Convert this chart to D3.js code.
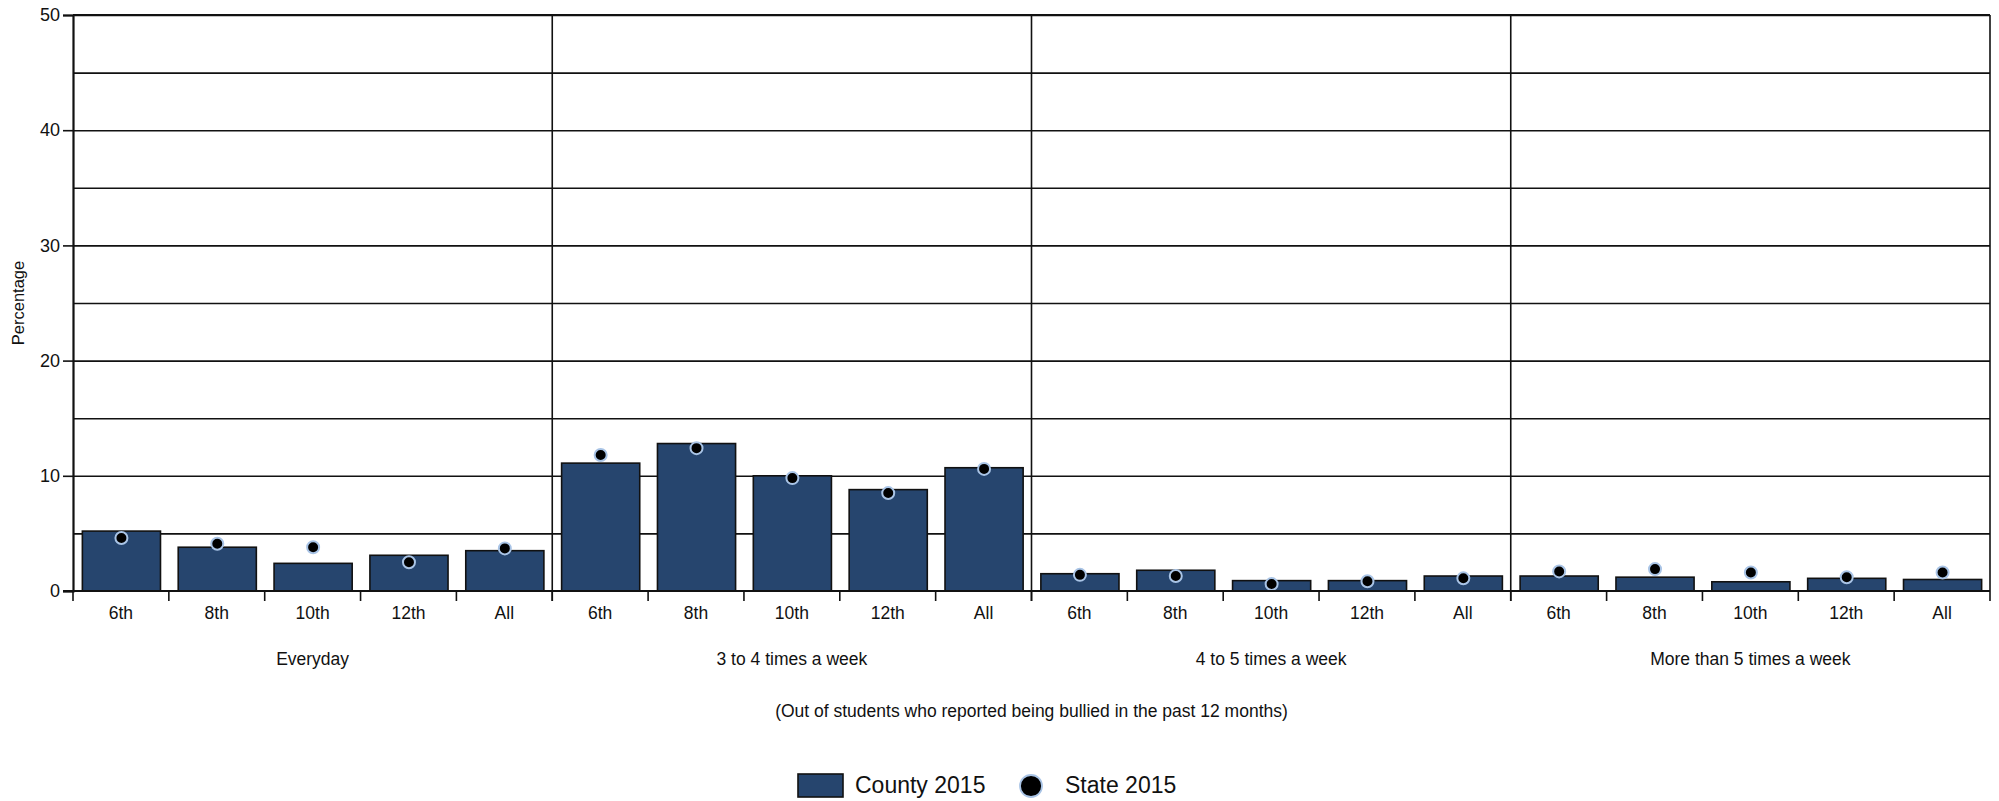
<!DOCTYPE html>
<html>
<head>
<meta charset="utf-8">
<script src="https://cdn.jsdelivr.net/npm/d3@7"></script>
<style>
  html, body { margin: 0; padding: 0; background: #fff; }
  svg { display: block; }
  text { font-family: "Liberation Sans", Arial, sans-serif; fill: #111; }
</style>
</head>
<body>
<svg id="chart" width="1999" height="801"></svg>
<script>
const groups = ["Everyday", "3 to 4 times a week", "4 to 5 times a week", "More than 5 times a week"];
const grades = ["6th", "8th", "10th", "12th", "All"];
const county2015 = [
  [5.2, 3.8, 2.4, 3.1, 3.5],
  [11.1, 12.8, 10.0, 8.8, 10.7],
  [1.5, 1.8, 0.9, 0.9, 1.3],
  [1.3, 1.2, 0.8, 1.1, 1.0]
];
const state2015 = [
  [4.6, 4.1, 3.8, 2.5, 3.7],
  [11.8, 12.4, 9.8, 8.5, 10.6],
  [1.4, 1.3, 0.6, 0.85, 1.1],
  [1.7, 1.9, 1.6, 1.2, 1.6]
];
const yTicks = [0, 10, 20, 30, 40, 50];
const gridValues = [5, 10, 15, 20, 25, 30, 35, 40, 45, 50];
const seriesNames = ["County 2015", "State 2015"];
const yTitle = "Percentage";
const note = "(Out of students who reported being bullied in the past 12 months)";

(function () {
const svg = d3.select("#chart");
const pLeft = 73, pRight = 1990, pTop = 15, pBottom = 591;
const barColor = "#26456e";
const dotStroke = "#a9c4e6";
const font = "Liberation Sans, Arial, sans-serif";

const keys = [];
groups.forEach(g => grades.forEach(c => keys.push(g + "|" + c)));
const x0 = d3.scaleBand().domain(groups).range([pLeft, pRight]);
const xf = d3.scaleBand().domain(keys).range([pLeft, pRight]);
const y = d3.scaleLinear().domain([0, 50]).range([pBottom, pTop]);

// gridlines
svg.append("g")
  .attr("transform", `translate(${pLeft},0)`)
  .call(d3.axisLeft(y).tickValues(gridValues).tickSize(-(pRight - pLeft)).tickFormat(""))
  .call(g => g.select(".domain").remove())
  .call(g => g.selectAll("line").attr("stroke", "#111").attr("stroke-width", 1.6));

// group dividers & right border
svg.append("g").selectAll("line")
  .data(groups.slice(1).map(g => x0(g)).concat([pRight]))
  .join("line")
  .attr("x1", d => d).attr("x2", d => d)
  .attr("y1", y(50)).attr("y2", pBottom + 10)
  .attr("stroke", "#111").attr("stroke-width", 1.6);

// category boundary ticks
svg.append("g").selectAll("line")
  .data(keys.map(k => xf(k)))
  .join("line")
  .attr("x1", d => d).attr("x2", d => d)
  .attr("y1", pBottom).attr("y2", pBottom + 10)
  .attr("stroke", "#111").attr("stroke-width", 1.6);

// data rows
const rows = [];
groups.forEach((g, gi) => grades.forEach((c, ci) => rows.push({
  key: g + "|" + c, county: county2015[gi][ci], state: state2015[gi][ci]
})));

const bw = xf.bandwidth() * 0.815;
svg.append("g").selectAll("rect")
  .data(rows)
  .join("rect")
  .attr("x", d => xf(d.key) + (xf.bandwidth() - bw) / 2 + 0.5)
  .attr("y", d => y(d.county))
  .attr("width", bw)
  .attr("height", d => y(0) - y(d.county))
  .attr("fill", barColor)
  .attr("stroke", "#111")
  .attr("stroke-width", 1.6);

svg.append("g").selectAll("circle")
  .data(rows)
  .join("circle")
  .attr("cx", d => xf(d.key) + xf.bandwidth() / 2 + 0.5)
  .attr("cy", d => y(d.state))
  .attr("r", 6)
  .attr("fill", "#000")
  .attr("stroke", dotStroke)
  .attr("stroke-width", 2);

// y axis
svg.append("g")
  .attr("transform", `translate(${pLeft},0)`)
  .call(d3.axisLeft(y).tickValues(yTicks).tickSize(10).tickPadding(3))
  .call(g => g.select(".domain").attr("stroke", "#111").attr("stroke-width", 2.2))
  .call(g => g.selectAll(".tick line").attr("stroke", "#111").attr("stroke-width", 1.6))
  .call(g => g.selectAll("text").attr("font-size", 18).attr("font-family", font).attr("fill", "#111"));

// x axis baseline
svg.append("line")
  .attr("x1", pLeft - 10).attr("x2", pRight)
  .attr("y1", pBottom).attr("y2", pBottom)
  .attr("stroke", "#111").attr("stroke-width", 2.2);
// top border
svg.append("line")
  .attr("x1", pLeft).attr("x2", pRight)
  .attr("y1", y(50)).attr("y2", y(50))
  .attr("stroke", "#111").attr("stroke-width", 2.2);

// category labels
svg.append("g")
  .attr("transform", `translate(0,${pBottom})`)
  .call(d3.axisBottom(xf).tickSize(0).tickPadding(16).tickFormat(k => k.split("|")[1]))
  .call(g => g.select(".domain").remove())
  .call(g => g.selectAll("text").attr("font-size", 17.5).attr("font-family", font).attr("fill", "#111"));

// group labels
svg.append("g").selectAll("text")
  .data(groups)
  .join("text")
  .attr("x", d => x0(d) + x0.bandwidth() / 2)
  .attr("y", 665)
  .attr("text-anchor", "middle")
  .attr("font-size", 17.5)
  .text(d => d);

// note
svg.append("text")
  .attr("x", (pLeft + pRight) / 2)
  .attr("y", 717)
  .attr("text-anchor", "middle")
  .attr("font-size", 17.5)
  .text(note);

// y title
svg.append("text")
  .attr("transform", `translate(24,${(pTop + pBottom) / 2}) rotate(-90)`)
  .attr("text-anchor", "middle")
  .attr("font-size", 16.5)
  .text(yTitle);

// legend
const lg = svg.append("g");
lg.append("rect")
  .attr("x", 798).attr("y", 774).attr("width", 45).attr("height", 23)
  .attr("fill", barColor).attr("stroke", "#111").attr("stroke-width", 1.6);
lg.append("text")
  .attr("x", 855).attr("y", 793).attr("font-size", 23).text(seriesNames[0]);
lg.append("circle")
  .attr("cx", 1031).attr("cy", 786).attr("r", 11)
  .attr("fill", "#000").attr("stroke", dotStroke).attr("stroke-width", 1.8);
lg.append("text")
  .attr("x", 1065).attr("y", 793).attr("font-size", 23).text(seriesNames[1]);
})();
</script>
</body>
</html>
